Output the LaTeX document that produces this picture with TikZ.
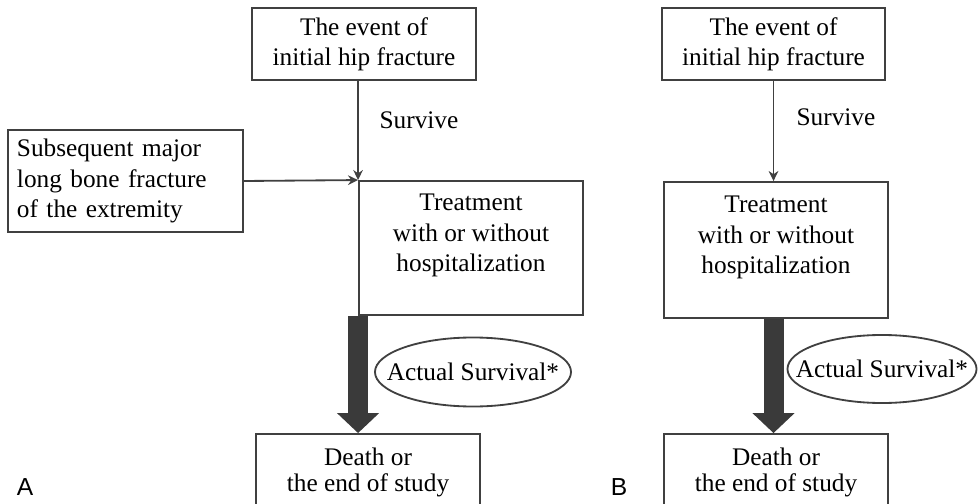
\documentclass[tikz,border=0pt]{standalone}
\usepackage{fontspec}
\setmainfont{Liberation Serif}
\newfontfamily\panelfont{Liberation Sans}
\usepackage{tikz}
\usetikzlibrary{arrows.meta, positioning, shapes.geometric}

\begin{document}
\begin{tikzpicture}[x=0.025cm, y=-0.025cm,
	box/.style={draw=linegray, line width=1.3pt, inner sep=0pt, align=center,
		font=\fontsize{18}{21.5}\selectfont},
	endbox/.style={box, font=\fontsize{18}{18.5}\selectfont},
	oval/.style={ellipse, draw=linegray, line width=1.3pt, inner xsep=-0.6cm,
		inner ysep=0pt, font=\fontsize{18}{21.5}\selectfont},
	thin arrow/.style={draw=linegray, line width=1.3pt,
		-{Stealth[length=0.25cm, width=0.24cm, inset=0.08cm]}},
	fat arrow/.style={draw=fillgray, line width=0.5cm,
		-{Triangle[length=0.5cm, width=1.025cm]}},
	plain/.style={font=\fontsize{18}{21.5}\selectfont},
	panel/.style={font=\panelfont\fontsize{17.5}{20}\selectfont}]
	
	% Colours
	\definecolor{linegray}{RGB}{64,64,64}
	\definecolor{fillgray}{RGB}{58,58,58}
	
	% Page size
	\path[use as bounding box, clip] (0,0) rectangle (978,504);
	
	% Panel A
	\node[box, minimum width=5.6cm, minimum height=1.8cm] (topA) at (364,44)
		{The event of\\initial hip fracture};
	\node[box, text width=5.425cm, inner xsep=0.225cm, align=left,
		minimum height=2.55cm] (sideA) at (125.5,181)
		{Subsequent major\\long bone fracture\\of the extremity};
	\node[box, minimum width=5.6cm, minimum height=3.35cm] (treatA) at (471,248)
		{Treatment\\with or without\\hospitalization\\\mbox{}};
	\node[endbox, minimum width=5.6cm, minimum height=1.9cm] (deathA) at (368,472)
		{Death or\\the end of study};
	\node[oval, minimum width=4.9cm, minimum height=1.725cm] (survA) at (473,372)
		{Actual Survival*};
	\node[plain] (liveA) at (419,120) {Survive};
	\node[panel] (nameA) at (25,487) {A};
	
	\draw[thin arrow] (topA.south -| treatA.north west) -- (treatA.north west);
	\draw[thin arrow] (sideA.east) -- (treatA.north west);
	\draw[fat arrow] (treatA.south west) -- (treatA.south west |- deathA.north);
	
	% Panel B
	\node[box, minimum width=5.575cm, minimum height=1.8cm] (topB) at (773.5,44)
		{The event of\\initial hip fracture};
	\node[box, minimum width=5.6cm, minimum height=3.4cm] (treatB) at (776,250)
		{Treatment\\with or without\\hospitalization\\\mbox{}};
	\node[endbox, minimum width=5.6cm, minimum height=1.9cm] (deathB) at (776,472)
		{Death or\\the end of study};
	\node[oval, minimum width=4.725cm, minimum height=1.7cm] (survB) at (882,369)
		{Actual Survival*};
	\node[plain] (liveB) at (836,117) {Survive};
	\node[panel] (nameB) at (619,487) {B};
	
	\draw[thin arrow] (topB.south) -- (topB.south |- treatB.north);
	\draw[fat arrow] (topB.south |- treatB.south) -- (topB.south |- deathB.north);
	
\end{tikzpicture}
\end{document}
